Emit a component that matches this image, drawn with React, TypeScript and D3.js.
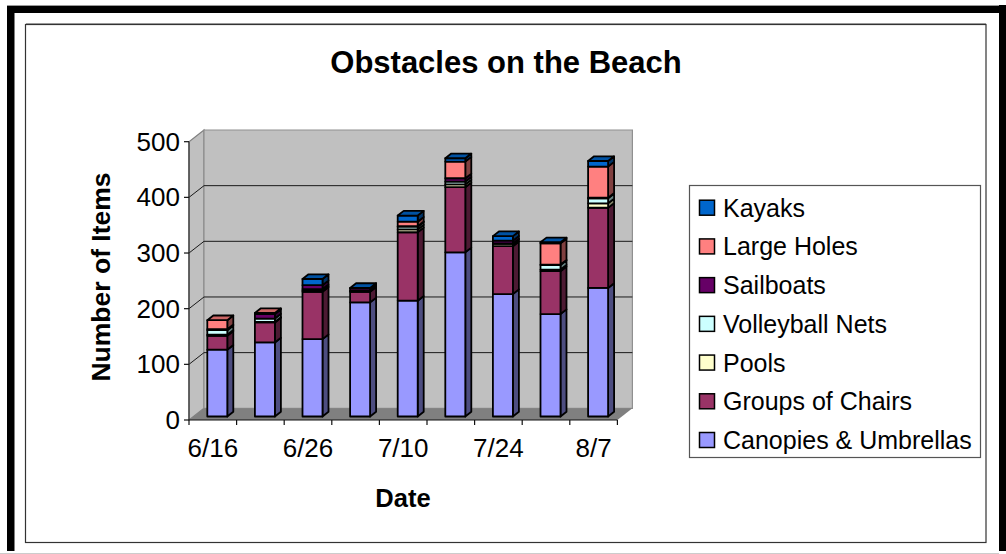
import React from "react";
import * as d3 from "d3";

const categories = ["6/16", "6/21", "6/26", "7/3", "7/10", "7/17", "7/24", "7/31", "8/7"];
const shownLabels = ["6/16", "6/26", "7/10", "7/24", "8/7"];
const canopies = [120, 133, 139, 205, 208, 295, 220, 184, 231];
const chairs = [25, 36, 85, 19, 123, 117, 86, 77, 144];
const pools = [2, 1, 2, 1, 5, 5, 4, 3, 8];
const nets = [8, 6, 3, 1, 5, 5, 1, 8, 9];
const sailboats = [2, 8, 7, 4, 1, 6, 5, 1, 1];
const holes = [16, 2, 0, 0, 8, 30, 0, 38, 56];
const kayaks = [0, 0, 11, 1, 11, 6, 8, 2, 10];
const seriesNames = ["Canopies & Umbrellas", "Groups of Chairs", "Pools", "Volleyball Nets", "Sailboats", "Large Holes", "Kayaks"];
const seriesValues = [canopies, chairs, pools, nets, sailboats, holes, kayaks];
const front = ["#9999FF", "#993366", "#FFFFCC", "#CCFFFF", "#660066", "#FF8080", "#0066CC"];
const yTicks = [0, 100, 200, 300, 400, 500];

const FONT = "'Liberation Sans', Arial, sans-serif";
const x = d3.scaleBand<string>().domain(categories).range([189, 617.4]);
const y = d3.scaleLinear().domain([0, 500]).range([420, 141.7]);
const floorDx = 15, floorDy = -11.7;
const barNear = 0.3, barFar = 0.7;
const barW = 20;

function shade(c: string, k: number) {
  const r = d3.rgb(c);
  return d3.rgb(r.r * k, r.g * k, r.b * k).formatHex();
}
const pts = (a: number[][]) => a.map((p) => p.join(",")).join(" ");

export default function App() {
  const tops = categories.map((_, i) => {
    let acc = 0;
    return seriesValues.map((s) => {
      const a = acc;
      acc += s[i];
      return [a, acc];
    });
  });
  const backBottom = y(0) + floorDy;
  const backTop = y(500) + floorDy;
  const xL = x.range()[0], xR = x.range()[1];
  const ddx = (barFar - barNear) * floorDx;
  const ddy = (barFar - barNear) * floorDy;

  return (
    <svg width={1006} height={554} style={{ position: "fixed", left: 0, top: 0, background: "#fff" }} fontFamily={FONT}>
      <rect x={7} y={5} width={992} height={546} fill="#000" />
      <rect x={7} y={5} width={992} height={1} fill="#999" />
      <rect x={14.5} y={13} width={984.5} height={540} fill="#fff" />
      <rect x={999} y={5} width={7} height={546} fill="#000" />
      <line x1={0} x2={999} y1={553.5} y2={553.5} stroke="#ccc" />
      <rect x={25.5} y={24.5} width={960.5} height={518} fill="#fff" stroke="#333" strokeWidth={1.2} />
      <line x1={26} x2={986} y1={23.5} y2={23.5} stroke="#999" />
      <text x={506} y={73} textAnchor="middle" fontSize={31} fontWeight={700}>Obstacles on the Beach</text>

      {/* walls */}
      <polygon points={pts([[xL, y(0)], [xL + floorDx, backBottom], [xL + floorDx, backTop], [xL, y(500)]])} fill="#C0C0C0" stroke="#808080" strokeWidth={1.2} />
      <polygon points={pts([[xL + floorDx, backBottom], [xR + floorDx, backBottom], [xR + floorDx, backTop], [xL + floorDx, backTop]])} fill="#C0C0C0" stroke="#909090" strokeWidth={1.2} />
      <polygon points={pts([[xL, y(0)], [xR, y(0)], [xR + floorDx, backBottom], [xL + floorDx, backBottom]])} fill="#808080" />
      {yTicks.filter((t) => t > 0 && t < 500).map((t) => (
        <polyline key={t} points={pts([[xL, y(t)], [xL + floorDx, y(t) + floorDy], [xR + floorDx, y(t) + floorDy]])} stroke="#1a1a1a" strokeWidth={1} fill="none" />
      ))}
      {/* axes */}
      <line x1={xL} x2={xL} y1={y(0)} y2={y(500)} stroke="#333" strokeWidth={1.2} />
      <line x1={xL} x2={xR} y1={y(0)} y2={y(0)} stroke="#111" strokeWidth={1.2} />
      {yTicks.map((t) => (
        <g key={t}>
          <line x1={xL - 5} x2={xL} y1={y(t)} y2={y(t)} stroke="#111" strokeWidth={1.2} />
          <text x={180} y={y(t) + 9} textAnchor="end" fontSize={26}>{t}</text>
        </g>
      ))}
      {[...categories.map((c) => x(c)!), xR].map((v, i) => (
        <line key={i} x1={v} x2={v} y1={y(0)} y2={y(0) + 5} stroke="#111" strokeWidth={1.2} />
      ))}
      {shownLabels.map((c) => (
        <text key={c} x={x(c)! + x.bandwidth() / 2} y={457} textAnchor="middle" fontSize={26}>{c}</text>
      ))}

      {/* bars */}
      {categories.map((c, i) => {
        const bx = x(c)! + (x.bandwidth() - barW) / 2 + barNear * floorDx;
        return (
          <g key={c} stroke="#000" strokeWidth={1.8} strokeLinejoin="round">
            {tops[i].map(([a, b], s) => {
              if (b === a) return null;
              const y0 = y(a) + barNear * floorDy, y1 = y(b) + barNear * floorDy;
              const isTop = tops[i].slice(s + 1).every(([p, q]) => p === q);
              return (
                <g key={s}>
                  <polygon points={pts([[bx + barW, y0], [bx + barW + ddx, y0 + ddy], [bx + barW + ddx, y1 + ddy], [bx + barW, y1]])} fill={shade(front[s], 0.5)} />
                  <rect x={bx} y={y1} width={barW} height={y0 - y1} fill={front[s]} />
                  {isTop ? (
                    <polygon points={pts([[bx, y1], [bx + ddx, y1 + ddy], [bx + barW + ddx, y1 + ddy], [bx + barW, y1]])} fill={shade(front[s], 0.8)} />
                  ) : null}
                </g>
              );
            })}
          </g>
        );
      })}

      <text transform="translate(110,277) rotate(-90)" textAnchor="middle" fontSize={26.5} fontWeight={700}>Number of Items</text>
      <text x={403} y={507} textAnchor="middle" fontSize={25.5} fontWeight={700}>Date</text>

      {/* legend */}
      <rect x={689.5} y={185.5} width={291} height={272} fill="#fff" stroke="#555" strokeWidth={1.2} />
      {seriesNames.map((n, i) => {
        const rowY = d3.scaleLinear().domain([0, 6]).range([440, 207.7])(i);
        return (
          <g key={n}>
            <rect x={699.5} y={rowY - 7.5} width={15} height={15} fill={front[i]} stroke="#000" strokeWidth={1.5} />
            <text x={723} y={rowY + 9} fontSize={25}>{n}</text>
          </g>
        );
      })}
    </svg>
  );
}
